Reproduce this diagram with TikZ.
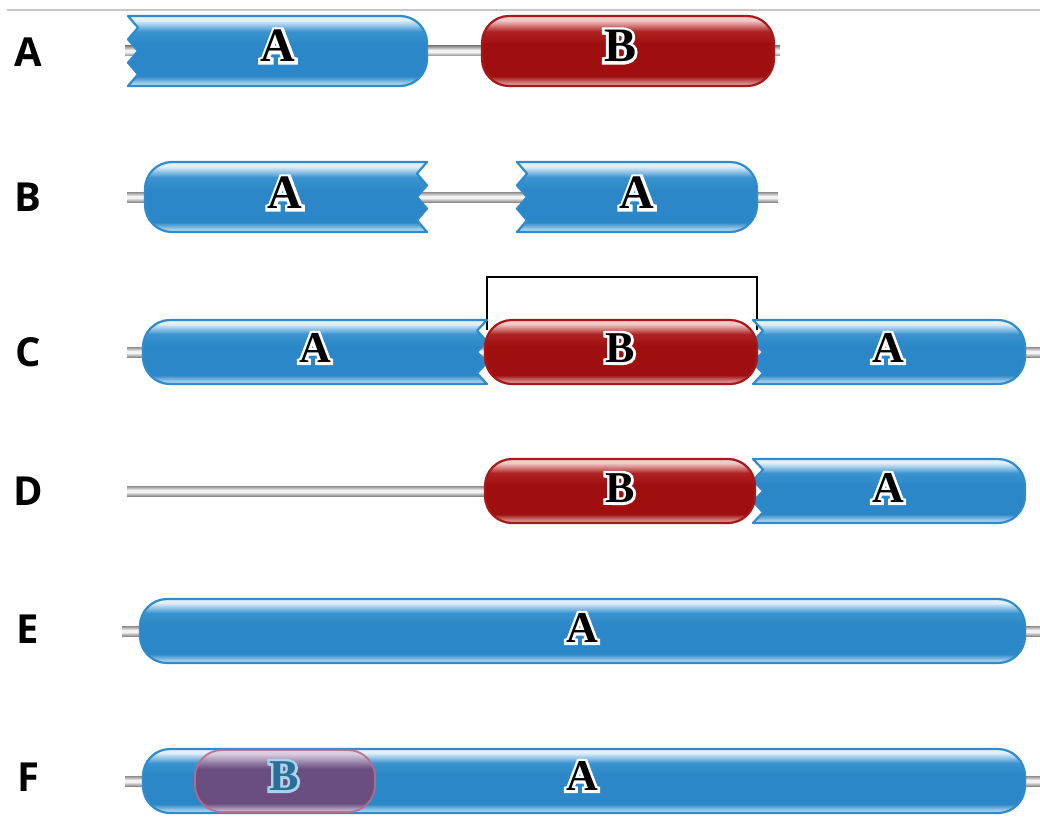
\documentclass[tikz,border=0pt]{standalone}
\usepackage{fontspec}
\newfontfamily\labfont{Open Sans}
\newfontfamily\letfont{Liberation Serif}
\newfontfamily\halofont{Liberation Serif}[FakeBold=12]
\definecolor{bStroke}{HTML}{2F8BCB}
\definecolor{bMid}{HTML}{2B87C7}
\definecolor{bMid2}{HTML}{3A93D0}
\definecolor{bHi}{HTML}{E2F0FA}
\definecolor{bLo}{HTML}{D4EAF7}
\definecolor{rStroke}{HTML}{A81818}
\definecolor{rMid}{HTML}{A00F0F}
\definecolor{rMid2}{HTML}{B02222}
\definecolor{rHi}{HTML}{F2CACA}
\definecolor{rLo}{HTML}{EDBBBB}
\definecolor{gDark}{HTML}{8C8C8C}
\definecolor{gLight}{HTML}{F2F2F2}
\definecolor{pMid}{HTML}{6E4A7A}
\definecolor{pHi}{HTML}{DCCBE0}
\definecolor{pStroke}{HTML}{BC6A8A}
\definecolor{fBlue}{HTML}{2C6E98}
\definecolor{fBlueHalo}{HTML}{A8D4EC}
\pgfdeclareverticalshading{bluebar}{100bp}{color(0bp)=(bLo); color(25bp)=(bLo); color(32bp)=(bMid); color(55bp)=(bMid); color(64bp)=(bMid2); color(72bp)=(bHi); color(75bp)=(bHi); color(100bp)=(bHi)}
\pgfdeclareverticalshading{redbar}{100bp}{color(0bp)=(rLo); color(25bp)=(rLo); color(32bp)=(rMid); color(55bp)=(rMid); color(64bp)=(rMid2); color(72bp)=(rHi); color(75bp)=(rHi); color(100bp)=(rHi)}
\pgfdeclareverticalshading{purplebar}{100bp}{color(0bp)=(pHi); color(25bp)=(pHi); color(32bp)=(pMid); color(60bp)=(pMid); color(72bp)=(pHi); color(75bp)=(pHi); color(100bp)=(pHi)}
\pgfdeclareverticalshading{graybar}{100bp}{color(0bp)=(gDark); color(25bp)=(gDark); color(45bp)=(gLight); color(55bp)=(gLight); color(75bp)=(gDark); color(100bp)=(gDark)}
\def\pilR{27}
\def\pilD{10}
\newcommand\pill[7]{%
 \pgfmathsetmacro\pxl{#1}\pgfmathsetmacro\pxr{#2}%
 \pgfmathsetmacro\pyt{#3-#4}\pgfmathsetmacro\pyb{#3+#4}\pgfmathsetmacro\pyc{#3}%
 \pgfmathsetmacro\pys{2*#4/6}%
 \ifnum#5=0
  \def\pilleft{(\pxl+\pilR,\pyb) arc[start angle=90,end angle=180,radius=\pilR] -- (\pxl,\pyt+\pilR) arc[start angle=180,end angle=270,radius=\pilR]}%
 \else
  \def\pilleft{(\pxl,\pyb) -- (\pxl+\pilD,\pyb-\pys) -- (\pxl,\pyb-2*\pys) -- (\pxl+\pilD,\pyc) -- (\pxl,\pyt+2*\pys) -- (\pxl+\pilD,\pyt+\pys) -- (\pxl,\pyt)}%
 \fi
 \ifnum#6=0
  \def\pilright{-- (\pxr-\pilR,\pyt) arc[start angle=270,end angle=360,radius=\pilR] -- (\pxr,\pyb-\pilR) arc[start angle=0,end angle=90,radius=\pilR]}%
 \else
  \def\pilright{-- (\pxr,\pyt) -- (\pxr-\pilD,\pyt+\pys) -- (\pxr,\pyt+2*\pys) -- (\pxr-\pilD,\pyc) -- (\pxr,\pyb-2*\pys) -- (\pxr-\pilD,\pyb-\pys) -- (\pxr,\pyb)}%
 \fi
 \path[#7] \pilleft \pilright -- cycle;}
\newcommand\rod[3]{\path[shade,shading=graybar] (#1,#3-5) rectangle (#2,#3+5);}
% letter with a halo: #1 name, #2 position, #3 size, #4 text colour, #5 halo colour, #6 letter
\newcommand\hlet[6]{%
 \node[inner sep=0pt,text=#5,font=\halofont\bfseries\fontsize{#3}{#3}\selectfont] (#1h) at #2 {#6};
 \node[inner sep=0pt,text=#4,font=\letfont\bfseries\fontsize{#3}{#3}\selectfont] (#1) at #2 {#6};}
\tikzset{
 bluepill/.style={shade,shading=bluebar,draw=bStroke,line width=2.2pt,line join=round},
 redpill/.style={shade,shading=redbar,draw=rStroke,line width=2.2pt},
 purplepill/.style={shade,shading=purplebar,draw=pStroke,line width=1.8pt,opacity=0.93},
 rowlab/.style={inner sep=0pt,font=\labfont\bfseries\fontsize{40}{40}\selectfont},
}
\begin{document}
\begin{tikzpicture}[x=1pt,y=-1pt]
\useasboundingbox (0,0) rectangle (1040,816);
\draw[color=black!22,line width=1.4pt] (7,10) -- (1040,10);
% rods
\rod{125}{780}{51}
\rod{127}{778}{197}
\rod{127}{1040}{352}
\rod{127}{490}{491}
\rod{122}{1040}{631}
\rod{125}{1040}{781}
% bracket
\draw[line width=2.2pt] (487,330) -- (487,277) -- (757,277) -- (757,330);
% row A
\pill{128}{427}{51}{35}{1}{0}{bluepill}
\pill{482}{774}{51}{35}{0}{0}{redpill}
% row B
\pill{145}{427}{197}{35}{0}{1}{bluepill}
\pill{517}{757}{197}{35}{1}{0}{bluepill}
% row C
\pill{143}{487}{352}{32}{0}{1}{bluepill}
\pill{753}{1025}{352}{32}{1}{0}{bluepill}
\pill{485}{757}{352}{32}{0}{0}{redpill}
% row D
\pill{753}{1025}{491}{32}{1}{0}{bluepill}
\pill{485}{755}{491}{32}{0}{0}{redpill}
% row E
\pill{140}{1025}{631}{32}{0}{0}{bluepill}
% row F
\pill{143}{1025}{781}{32}{0}{0}{bluepill}
\pill{195}{375}{781}{31}{0}{0}{purplepill}
% row labels
\node[rowlab] (la) at (28,52) {A};
\node[rowlab] (lb) at (28,197) {B};
\node[rowlab] (lc) at (28,352) {C};
\node[rowlab] (ld) at (28,491) {D};
\node[rowlab] (le) at (28,629) {E};
\node[rowlab] (lf) at (28,777) {F};
% pill letters
\hlet{a1}{(278,46)}{48}{black}{white}{A}
\hlet{a2}{(620,46)}{48}{black}{white}{B}
\hlet{b1}{(285,193)}{48}{black}{white}{A}
\hlet{b2}{(637,193)}{48}{black}{white}{A}
\hlet{c1}{(315,348)}{44}{black}{white}{A}
\hlet{c2}{(620,348)}{44}{black}{white}{B}
\hlet{c3}{(888,348)}{44}{black}{white}{A}
\hlet{d1}{(620,488)}{44}{black}{white}{B}
\hlet{d2}{(888,488)}{44}{black}{white}{A}
\hlet{e1}{(582,628)}{44}{black}{white}{A}
\hlet{f1}{(284,776)}{44}{fBlue}{fBlueHalo}{B}
\hlet{f2}{(582,776)}{44}{black}{white}{A}
\end{tikzpicture}
\end{document}
